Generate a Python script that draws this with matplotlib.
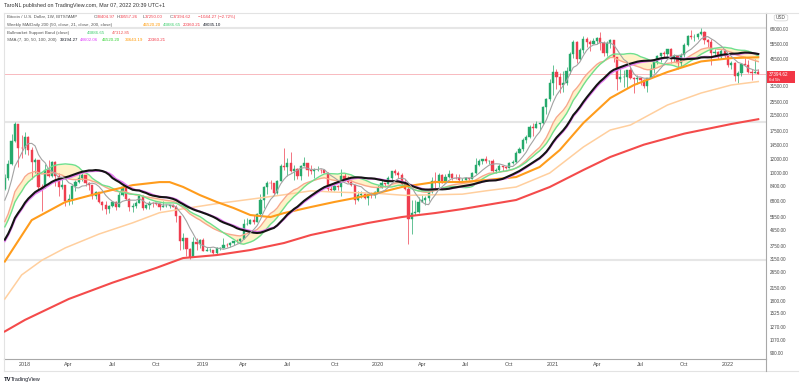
import numpy as np
import pandas as pd
import matplotlib
matplotlib.use("Agg")
import matplotlib.pyplot as plt
from matplotlib import font_manager
from matplotlib.lines import Line2D
from matplotlib.patches import Rectangle, FancyBboxPatch
from matplotlib.ticker import FixedLocator, FixedFormatter, NullLocator

plt.rcParams['font.family'] = ['Liberation Sans', 'DejaVu Sans']

try:
    font_manager.findfont("Liberation Sans Narrow", fallback_to_default=False)
    NARROW = ["Liberation Sans Narrow", "Liberation Sans", "DejaVu Sans"]
    LEG_FS = 4.0
    TICK_FS = 3.9
except Exception:
    NARROW = ["Liberation Sans", "DejaVu Sans"]
    LEG_FS = 3.2
    TICK_FS = 3.3

# ---------------- data ----------------
history_start = "2017-04-24"     # weekly closes used only to seed the moving averages
visible_start = "2017-11-20"     # first weekly candle drawn

close_pre = [1350, 1550, 1750, 2050, 2150, 2550, 2950, 2600, 2550, 2500,
             2500, 1950, 2750, 2750, 3250, 4050, 4100, 4350, 4600, 4200,
             3700, 3800, 4350, 4600, 5650, 6000, 6150, 7350, 5950, 8000]

close_2017 = [9300, 11250, 15150, 19100, 13900, 13880]
high_2017 = [9800, 11800, 16700, 19666, 19200, 16500]
low_2017 = [7900, 9000, 11100, 15100, 10800, 12100]

close_2018 = [16150, 13550, 11500, 11750, 8200, 8100, 10400, 9600, 11450, 9550, 8200, 8450, 6850,
              7000, 8350, 8800, 9350, 9650, 8700, 8500, 7350, 7700, 6780, 6450, 6150, 6380,
              6750, 6350, 7400, 8200, 7030, 6300, 6400, 6700, 7300, 6250, 6500, 6700, 6630,
              6570, 6300, 6400, 6400, 6480, 6350, 5600, 4000, 4150, 3600, 3250, 3980, 3850]
high_2018 = [17200, 16300, 14100, 12200, 11850, 8550, 11200, 11800, 11700, 11700, 10000, 9200, 8500,
             7500, 8450, 9000, 9750, 9950, 9700, 8850, 8500, 7800, 7750, 6850, 6800, 6500,
             6800, 6800, 7700, 8500, 8250, 7150, 6650, 6850, 7400, 7400, 6600, 6800, 6750,
             6700, 6700, 6800, 6550, 6500, 6550, 6500, 5600, 4450, 4200, 3650, 4250, 4200]
low_2018 = [12750, 12600, 9200, 10000, 7900, 6000, 8100, 9400, 9400, 8350, 7300, 8050, 6400,
            6450, 6600, 7850, 8700, 8900, 8350, 7950, 7050, 7050, 6650, 6100, 5780, 5800,
            6300, 6100, 6300, 7350, 6900, 5950, 5900, 6250, 6650, 6100, 6150, 6150, 6350,
            6500, 6100, 6350, 6350, 6250, 6300, 5200, 3550, 3600, 3300, 3150, 3250, 3550]

close_2019 = [4050, 3500, 3540, 3550, 3410, 3650, 3670, 3820, 3800, 3920, 4000, 3990, 4100,
              5050, 5050, 5300, 5200, 5750, 6950, 8200, 8750, 8700, 7650, 8950, 10850, 10800,
              11400, 10200, 10500, 9500, 10900, 11300, 10300, 10150, 10350, 10400, 10300, 10000,
              8050, 7880, 8300, 8200, 9550, 9200, 8800, 8500, 6900, 7400, 7500, 7100, 7500, 7400]
high_2019 = [4100, 4150, 3700, 3650, 3570, 3700, 3700, 4200, 3900, 3950, 4000, 4100, 4150,
             5350, 5450, 5400, 5650, 5800, 7500, 8350, 8950, 9100, 8700, 9000, 11200, 13880,
             12100, 13200, 11100, 10650, 11100, 12300, 11400, 11000, 10650, 10950, 10450, 10350,
             10050, 8500, 8800, 8450, 10500, 9950, 9500, 9100, 8500, 7850, 7800, 7650, 7550, 7700]
low_2019 = [3650, 3500, 3500, 3450, 3350, 3380, 3550, 3650, 3700, 3700, 3820, 3900, 3950,
            4100, 4950, 5000, 5050, 5150, 5700, 6200, 7500, 8000, 7450, 7500, 8950, 10300,
            9600, 10100, 9100, 9150, 9100, 10900, 9500, 9800, 9350, 10200, 9900, 9900,
            7800, 7800, 7850, 7900, 7300, 8950, 8700, 8300, 6550, 6800, 7100, 7000, 6450, 7100]

close_2020 = [7750, 8150, 8700, 8600, 9350, 10150, 9900, 9650, 8550, 8030, 5350, 5800, 5900,
              6780, 6900, 7150, 7700, 8900, 8700, 9700, 8720, 9450, 9750, 9350, 9300, 9100,
              9100, 9250, 9200, 9950, 11100, 11700, 11900, 11650, 11700, 10250, 10330, 10920,
              10780, 10670, 11380, 11500, 13030, 13740, 15480, 15970, 18380, 18180, 19150,
              19250, 23850, 26500]
high_2020 = [7800, 8450, 9200, 8750, 9600, 10150, 10500, 10250, 9950, 9200, 8200, 6950, 6950,
             7200, 7450, 7300, 7750, 9450, 10050, 9950, 9850, 9750, 10400, 10000, 9800, 9800,
             9300, 9450, 9350, 10100, 12100, 12000, 12050, 12450, 11800, 12050, 10600, 11150,
             10950, 10950, 11500, 11750, 13350, 14100, 15950, 16500, 18800, 19400, 19900,
             19400, 24200, 26900]
low_2020 = [7150, 7650, 8100, 8250, 8550, 9100, 9650, 9300, 8450, 7900, 3850, 4400, 5700,
            5850, 6750, 6500, 6800, 7650, 8100, 8250, 8700, 8650, 9300, 9100, 9200, 8850,
            8950, 9050, 9000, 9150, 9850, 10950, 11150, 11400, 11150, 9900, 9900, 10250,
            10150, 10450, 10550, 11200, 11400, 12950, 13300, 14800, 15800, 16200, 18150,
            17600, 19000, 21800]

close_2021 = [33000, 38200, 35800, 32300, 33100, 38900, 48600, 57400, 45200, 51000, 59000, 57300,
              55800, 57800, 60000, 56200, 49000, 56600, 58250, 46400, 34700, 35600, 35800, 39000,
              35500, 34700, 35300, 34250, 31800, 35400, 39900, 43800, 47000, 49300, 48800, 51800,
              46000, 47300, 43200, 48200, 54700, 61500, 61000, 61300, 63300, 65500, 58900, 57300,
              49400, 50100, 46700, 50800, 47300]
high_2021 = [34800, 41950, 40000, 37850, 38500, 40950, 49700, 58350, 57500, 52600, 61800, 61200,
             58400, 60200, 61200, 64900, 57500, 57900, 59600, 58000, 46500, 40800, 39400, 39400,
             41300, 35800, 36600, 35100, 34700, 35400, 42600, 44800, 48100, 49400, 50500, 51900,
             52900, 48800, 47600, 49300, 56200, 62800, 67000, 63700, 64300, 69000, 66400, 59300,
             59100, 51900, 50500, 51900, 52100]
low_2021 = [25900, 28000, 30400, 28800, 29200, 32300, 37400, 46200, 43000, 45000, 49300, 53300,
            50300, 55500, 55500, 51500, 47000, 47100, 52900, 43800, 30000, 33400, 31200, 31000,
            34800, 28800, 32700, 32100, 31000, 29300, 35200, 37500, 42800, 43900, 46400, 46600,
            43000, 43400, 39600, 40800, 46900, 53900, 59500, 58000, 59400, 62300, 55600, 53300,
            42000, 47100, 45600, 45500, 45900]

close_2022 = [41800, 43100, 36300, 37900, 42400, 42200, 38300, 37700, 38404.97, 37394.62]
high_2022 = [47500, 44500, 43500, 38900, 42600, 45800, 44800, 39800, 45400, 39557.26]
low_2022 = [40600, 39700, 34000, 32900, 36300, 41700, 37900, 34300, 37600, 37250.00]

# long moving averages (50W, 100W, 200W)
ma50_dates = ["2017-11-20", "2018-01-15", "2018-03-26", "2018-06-04", "2018-08-13", "2018-10-08",
              "2018-10-29", "2018-11-26", "2018-12-31", "2019-02-04", "2019-03-11", "2019-04-15",
              "2019-05-27", "2019-06-24", "2019-08-19", "2019-10-07", "2019-11-18", "2020-01-06",
              "2020-02-24", "2020-05-04", "2020-06-29", "2020-08-17", "2020-10-19", "2020-12-07",
              "2021-01-18", "2021-03-08", "2021-05-03", "2021-06-21", "2021-08-30", "2021-11-08",
              "2022-01-10", "2022-03-07"]
ma50_vals = [3050, 5300, 6750, 7600, 8450, 8800, 8800, 8250, 7400, 6750, 6230, 5670,
             5520, 5820, 6310, 6750, 7110, 7610, 8240, 8810, 8810, 9040, 9410, 10760,
             13500, 19350, 27000, 32100, 38200, 44000, 46000, 46520.20]

ma100_dates = ["2017-11-20", "2017-12-25", "2018-02-05", "2018-03-26", "2018-06-04", "2018-08-13",
               "2018-10-08", "2018-11-26", "2019-02-04", "2019-04-15", "2019-06-24", "2019-08-19",
               "2019-10-07", "2019-12-30", "2020-03-02", "2020-06-29", "2020-08-17", "2020-10-19",
               "2020-12-28", "2021-03-08", "2021-05-03", "2021-06-14", "2021-08-30", "2021-11-08",
               "2022-01-10", "2022-03-07"]
ma100_vals = [1850, 2550, 3100, 3660, 4400, 5110, 5850, 6160, 6600, 7000, 7430, 7830,
              7700, 7590, 7370, 7490, 7830, 8240, 9930, 14050, 17630, 18840, 24600, 28870,
              32130, 33643.19]

ma200_dates = ["2017-11-20", "2018-01-01", "2018-04-02", "2018-07-02", "2018-10-01", "2018-11-26",
               "2019-02-04", "2019-04-15", "2019-06-24", "2019-08-19", "2019-10-07", "2019-12-16",
               "2020-02-24", "2020-05-04", "2020-06-29", "2020-10-19", "2020-12-28", "2021-03-08",
               "2021-05-03", "2021-07-12", "2021-10-04", "2022-01-10", "2022-03-07"]
ma200_vals = [1200, 1400, 1850, 2300, 2800, 3195, 3325, 3555, 3904, 4345, 4645, 5100,
              5520, 5825, 6140, 6930, 8240, 10340, 12300, 14500, 16800, 19100, 20360.21]

level_ath_2017 = 19666
level_low_2018 = 3122
level_ath_2021 = 69000
last_price = 37394.62

price_ticks = [84000, 68000, 55500, 45500, 31500, 25500, 21500, 17500, 14500, 12000, 10000,
               8400, 6800, 5550, 4650, 3750, 3150, 2650, 2150, 1800, 1525, 1270, 1070, 900]

# ---------------- series ----------------
closes = close_2017 + close_2018 + close_2019 + close_2020 + close_2021 + close_2022
highs = high_2017 + high_2018 + high_2019 + high_2020 + high_2021 + high_2022
lows = low_2017 + low_2018 + low_2019 + low_2020 + low_2021 + low_2022

all_close = pd.Series(close_pre + closes,
                      index=pd.date_range(history_start, periods=len(close_pre) + len(closes),
                                          freq="W-MON"))
opens_all = all_close.shift(1)
vis = all_close.index >= pd.Timestamp(visible_start)
dates = all_close.index[vis]
c = all_close[vis].values
o = opens_all[vis].values
h = np.maximum(np.array(highs, float), np.maximum(o, c))
l = np.minimum(np.array(lows, float), np.minimum(o, c))

sma7 = all_close.rolling(7).mean()[vis]
sma20 = all_close.rolling(20).mean()[vis]
ema21 = all_close.ewm(span=21, adjust=False).mean()[vis]
sma30 = all_close.rolling(30).mean()[vis]
d200 = all_close.rolling(29).mean()[vis]   # daily 200 on a weekly chart

# ---------------- figure ----------------
W, H = 800, 387
fig = plt.figure(figsize=(8, 3.87), dpi=100)
fig.patch.set_facecolor("white")
L, R, T, B = 4, 766, 13, 359
ax = fig.add_axes([L / W, 1 - B / H, (R - L) / W, (B - T) / H])
ax.set_facecolor("white")

def fx(x):
    return x / W

def fy(y):
    return 1 - y / H

x0 = pd.Timestamp("2018-01-01")
ax.set_xlim(x0 - pd.Timedelta(weeks=6.24), x0 + pd.Timedelta(weeks=220.3))
ax.set_yscale("log")
ax.set_ylim(831, 83950)

# horizontal levels
for lv in (level_ath_2017, level_low_2018, level_ath_2021):
    ax.axhline(lv, color="#e6e6e6", lw=1.5, zorder=1)
ax.axhline(last_price, color="#f8b9bf", lw=0.7, zorder=1)

# bull market support band fill
ax.fill_between(dates, sma20.values, ema21.values, color="#fff1c2", alpha=0.9, lw=0, zorder=1.5)

# candles
up = c >= o
wd = pd.Timedelta(days=4.4)
col = np.where(up, "#26a96c", "#ef3e4f")
ax.vlines(dates, l, h, colors=col, lw=0.5, zorder=2)
bottoms = np.minimum(o, c)
heights = np.abs(c - o)
ax.bar(dates, heights, bottom=bottoms, width=wd, color=col, edgecolor=col, lw=0.3, zorder=2.1)

# moving averages
ax.plot(pd.to_datetime(ma200_dates), ma200_vals, color="#f44b4b", lw=1.5, zorder=3)
ax.plot(pd.to_datetime(ma100_dates), ma100_vals, color="#ffcf9e", lw=1.1, zorder=3)
ax.plot(pd.to_datetime(ma50_dates), ma50_vals, color="#ff9c1c", lw=1.5, zorder=3.2)
ax.plot(dates, ema21.values, color="#f8a88c", lw=1.0, zorder=3.1)
ax.plot(dates, sma20.values, color="#6fe08e", lw=1.0, zorder=3.1)
ax.plot(dates, sma30.values, color="#e57cf2", lw=1.4, zorder=3.3)
ax.plot(dates, d200.values, color="#141414", lw=1.5, zorder=3.4)
ax.plot(dates, sma7.values, color="#a3a3a3", lw=0.8, zorder=3.5)

# axes styling
ax.yaxis.tick_right()
ax.yaxis.set_major_locator(FixedLocator(price_ticks))
ax.yaxis.set_major_formatter(FixedFormatter([f"{p:.2f}" for p in price_ticks]))
ax.yaxis.set_minor_locator(NullLocator())
ax.tick_params(axis="y", which="both", length=0, pad=2.5, labelcolor="#4a4a4a")
for t in ax.get_yticklabels():
    t.set_fontfamily(NARROW)
    t.set_fontsize(TICK_FS)

month_first = [i for i in range(len(dates))
               if dates[i].month in (1, 4, 7, 10) and (i == 0 or dates[i - 1].month != dates[i].month)]
tick_dates = [dates[i] for i in month_first]
tick_labels = [str(d.year) if d.month == 1 else d.strftime("%b") for d in tick_dates]
ax.set_xticks(tick_dates)
ax.set_xticklabels(tick_labels)
ax.tick_params(axis="x", length=0, pad=2.5, labelsize=3.9, labelcolor="#4a4a4a")

for s in ("left", "top"):
    ax.spines[s].set_color("#e3e3e3")
    ax.spines[s].set_linewidth(0.8)
for s in ("right", "bottom"):
    ax.spines[s].set_color("#a8a8a8")
    ax.spines[s].set_linewidth(0.8)

# outer frame pieces
fig.add_artist(Line2D([fx(4), fx(798)], [fy(371), fy(371)], color="#e3e3e3", lw=0.8))
fig.add_artist(Line2D([fx(766), fx(766)], [fy(359), fy(371)], color="#a8a8a8", lw=0.8))
fig.add_artist(Line2D([fx(4), fx(4)], [fy(359), fy(371)], color="#e3e3e3", lw=0.8))
fig.add_artist(Line2D([fx(766), fx(798)], [fy(13), fy(13)], color="#e3e3e3", lw=0.8))

# price label
fig.add_artist(Rectangle((fx(767), fy(83)), (795 - 767) / W, 12.5 / H, color="#f23645", lw=0))
fig.text(fx(769), fy(75), "37394.62", color="white", fontsize=TICK_FS, family=NARROW,
         va="center", ha="left")
fig.text(fx(769), fy(80.3), "6d 5h", color="white", fontsize=TICK_FS - 0.1, family=NARROW,
         va="center", ha="left")
fig.add_artist(FancyBboxPatch((fx(775), fy(20.5)), 12 / W, 5.5 / H,
                              boxstyle="round,pad=0.001,rounding_size=0.004",
                              fc="white", ec="#d0d0d0", lw=0.5))
fig.text(fx(781), fy(17.8), "USD", color="#4a4a4a", fontsize=3.4, va="center", ha="center")

# header / footer
fig.text(fx(4), fy(6), "TaroNL published on TradingView.com, Mar 07, 2022 20:39 UTC+1",
         color="#333333", fontsize=3.9, va="center", ha="left")
fig.text(fx(4), fy(379.5), "TV", color="#131722", fontsize=4.2, fontweight="bold",
         va="center", ha="left")
fig.text(fx(11), fy(379.5), "TradingView", color="#131722", fontsize=3.9, va="center", ha="left")

# legend rows
gray = "#555555"
red = "#f0424f"
rows = [
    (17, [(7, "Bitcoin / U.S. Dollar, 1W, BITSTAMP", gray), (94, "O", gray), (96.8, "38404.97", red),
          (117, "H", gray), (119.8, "39557.26", red), (143, "L", gray), (145.3, "37250.00", red),
          (170, "C", gray), (172.8, "37394.62", red), (198, "\u22121044.27 (\u22122.72%)", red)]),
    (25, [(7, "Weekly MA/Daily 200 (50, close, 21, close, 200, close)", gray),
          (143, "46520.20", "#ff9800"), (162.5, "43886.65", "#3fce6e"),
          (182.5, "20360.21", "#f23645"), (203, "49035.10", "#131722")]),
    (33, [(7, "Bullmarket Support Band (close)", gray), (87.3, "43886.65", "#3fce6e"),
          (111.7, "47312.85", "#f05a5a")]),
    (40, [(7, "SMA (7, 30, 50, 100, 200)", gray), (60, "39194.27", "#131722"),
          (80, "48602.06", "#e040fb"), (101.7, "46520.20", "#2fd12f"),
          (125, "33643.19", "#ff9800"), (147.7, "20360.21", "#f23645")]),
]
for y, segs in rows:
    for x, s, cc in segs:
        fig.text(fx(x), fy(y), s, color=cc, fontsize=LEG_FS, family=NARROW,
                 va="center", ha="left")

fig.savefig("out.png", dpi=100, facecolor="white")
